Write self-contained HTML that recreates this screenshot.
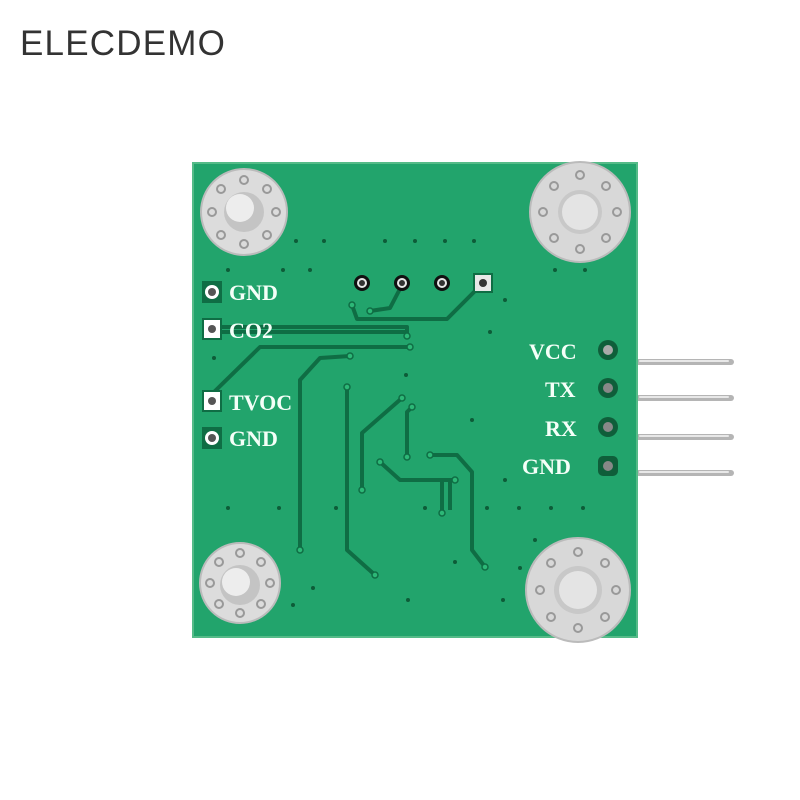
<!DOCTYPE html>
<html><head><meta charset="utf-8"><style>
body{margin:0;background:#fff;width:800px;height:800px;overflow:hidden}
svg{display:block}
</style></head><body>
<svg width="800" height="800" viewBox="0 0 800 800" xmlns="http://www.w3.org/2000/svg">
<rect width="800" height="800" fill="#fff"/>
<text x="20" y="55" font-family="Liberation Sans, sans-serif" font-size="35" letter-spacing="1.2" fill="#333">ELECDEMO</text>
<!-- pins -->
<g stroke-linecap="round">
<g stroke="#b5b5b5" stroke-width="6">
<line x1="632" y1="362" x2="731" y2="362"/><line x1="632" y1="398" x2="731" y2="398"/>
<line x1="632" y1="437" x2="731" y2="437"/><line x1="632" y1="473" x2="731" y2="473"/></g>
<g stroke="#e8e8e8" stroke-width="2">
<line x1="640" y1="361" x2="728" y2="361"/><line x1="640" y1="397" x2="728" y2="397"/>
<line x1="640" y1="436" x2="728" y2="436"/><line x1="640" y1="472" x2="728" y2="472"/></g>
</g>
<!-- board -->
<rect x="193" y="163" width="444" height="474" fill="#22a46c"/>
<rect x="193" y="163" width="444" height="474" fill="none" stroke="#55bb88" stroke-width="2"/>
<!-- traces -->
<g fill="none" stroke="#0f6d44" stroke-width="4" stroke-linejoin="round">
<polyline points="483,283 447,319 357,319 352,305"/>
<polyline points="403,283 390,308 370,311"/>
<polyline points="218,327 407,327 407,336"/>
<polyline points="218,332 405,332"/>
<polyline points="213,393 260,347 410,347"/>
<polyline points="350,356 320,358 300,380 300,550"/>
<polyline points="347,387 347,550 375,575"/>
<polyline points="402,398 362,433 362,490"/>
<polyline points="412,407 407,412 407,457"/>
<polyline points="380,462 400,480 455,480"/>
<polyline points="442,480 442,513"/>
<polyline points="450,480 450,510"/>
<polyline points="430,455 457,455 472,472 472,550 485,567"/>
</g>
<g fill="#2db877" stroke="#0f6d44" stroke-width="1.5">
<circle cx="352" cy="305" r="3"/><circle cx="370" cy="311" r="3"/><circle cx="407" cy="336" r="3"/>
<circle cx="410" cy="347" r="3"/><circle cx="350" cy="356" r="3"/><circle cx="300" cy="550" r="3"/>
<circle cx="347" cy="387" r="3"/><circle cx="375" cy="575" r="3"/><circle cx="402" cy="398" r="3"/>
<circle cx="412" cy="407" r="3"/><circle cx="362" cy="490" r="3"/><circle cx="407" cy="457" r="3"/>
<circle cx="380" cy="462" r="3"/><circle cx="455" cy="480" r="3"/><circle cx="442" cy="513" r="3"/>
<circle cx="430" cy="455" r="3"/><circle cx="485" cy="567" r="3"/>
</g>
<!-- small vias -->
<g fill="#0d5c38">
<circle cx="296" cy="241" r="2"/><circle cx="324" cy="241" r="2"/><circle cx="385" cy="241" r="2"/>
<circle cx="415" cy="241" r="2"/><circle cx="445" cy="241" r="2"/><circle cx="474" cy="241" r="2"/>
<circle cx="228" cy="270" r="2"/><circle cx="283" cy="270" r="2"/><circle cx="310" cy="270" r="2"/>
<circle cx="555" cy="270" r="2"/><circle cx="585" cy="270" r="2"/><circle cx="505" cy="300" r="2"/>
<circle cx="490" cy="332" r="2"/><circle cx="214" cy="358" r="2"/><circle cx="406" cy="375" r="2"/>
<circle cx="472" cy="420" r="2"/><circle cx="505" cy="480" r="2"/><circle cx="228" cy="508" r="2"/>
<circle cx="279" cy="508" r="2"/><circle cx="336" cy="508" r="2"/><circle cx="425" cy="508" r="2"/>
<circle cx="487" cy="508" r="2"/><circle cx="519" cy="508" r="2"/><circle cx="551" cy="508" r="2"/>
<circle cx="583" cy="508" r="2"/><circle cx="313" cy="588" r="2"/><circle cx="455" cy="562" r="2"/>
<circle cx="520" cy="568" r="2"/><circle cx="293" cy="605" r="2"/><circle cx="408" cy="600" r="2"/>
<circle cx="503" cy="600" r="2"/><circle cx="535" cy="540" r="2"/>
</g>
<!-- header pads -->
<g>
<circle cx="362" cy="283" r="8" fill="#111"/><circle cx="362" cy="283" r="5" fill="#e8e8e8"/><circle cx="362" cy="283" r="3" fill="#333"/>
<circle cx="402" cy="283" r="8" fill="#111"/><circle cx="402" cy="283" r="5" fill="#e8e8e8"/><circle cx="402" cy="283" r="3" fill="#333"/>
<circle cx="442" cy="283" r="8" fill="#111"/><circle cx="442" cy="283" r="5" fill="#e8e8e8"/><circle cx="442" cy="283" r="3" fill="#333"/>
<rect x="473" y="273" width="20" height="20" fill="#0f6d44"/><rect x="475" y="275" width="16" height="16" fill="#e8e8e8"/><circle cx="483" cy="283" r="4" fill="#333"/>
</g>
<!-- left pads -->
<g>
<rect x="202" y="281" width="20" height="22" fill="#0f6d44"/><circle cx="212" cy="292" r="7" fill="#fff"/><circle cx="212" cy="292" r="4" fill="#555"/>
<rect x="202" y="318" width="20" height="22" fill="#0f6d44"/><rect x="204" y="320" width="16" height="18" fill="#fff"/><circle cx="212" cy="329" r="4" fill="#555"/>
<rect x="202" y="390" width="20" height="22" fill="#0f6d44"/><rect x="204" y="392" width="16" height="18" fill="#fff"/><circle cx="212" cy="401" r="4" fill="#555"/>
<rect x="202" y="427" width="20" height="22" fill="#0f6d44"/><circle cx="212" cy="438" r="7" fill="#fff"/><circle cx="212" cy="438" r="4" fill="#555"/>
</g>
<g font-family="Liberation Serif, serif" font-size="22" font-weight="bold" fill="#f4fff8">
<text x="229" y="300">GND</text><text x="229" y="338">CO2</text>
<text x="229" y="410">TVOC</text><text x="229" y="446">GND</text>
<text x="529" y="359">VCC</text><text x="545" y="397">TX</text>
<text x="545" y="436">RX</text><text x="522" y="474">GND</text>
</g>
<!-- right pads -->
<g>
<circle cx="608" cy="350" r="10" fill="#0f5e3a"/><circle cx="608" cy="350" r="5" fill="#aaa"/>
<circle cx="608" cy="388" r="10" fill="#0f5e3a"/><circle cx="608" cy="388" r="5" fill="#888"/>
<circle cx="608" cy="427" r="10" fill="#0f5e3a"/><circle cx="608" cy="427" r="5" fill="#888"/>
<rect x="598" y="456" width="20" height="20" rx="5" fill="#0f5e3a"/><circle cx="608" cy="466" r="5" fill="#888"/>
</g>
<!-- mounting holes -->
<g>
<circle cx="244" cy="212" r="43" fill="#dcdcdc" stroke="#bbb" stroke-width="2"/>
<circle cx="244" cy="212" r="20" fill="#c4c4c4"/><circle cx="240" cy="208" r="14" fill="#ededed"/>
<circle cx="580" cy="212" r="50" fill="#d8d8d8" stroke="#bbb" stroke-width="2"/>
<circle cx="580" cy="212" r="22" fill="#c8c8c8"/><circle cx="580" cy="212" r="18" fill="#e4e4e4"/>
<circle cx="240" cy="583" r="40" fill="#dcdcdc" stroke="#bbb" stroke-width="2"/>
<circle cx="240" cy="585" r="20" fill="#c4c4c4"/><circle cx="236" cy="582" r="14" fill="#ededed"/>
<circle cx="578" cy="590" r="52" fill="#d8d8d8" stroke="#bbb" stroke-width="2"/>
<circle cx="578" cy="590" r="24" fill="#c8c8c8"/><circle cx="578" cy="590" r="19" fill="#e4e4e4"/>
</g>
<g fill="none" stroke="#999" stroke-width="2">
<circle cx="244" cy="180" r="4"/><circle cx="244" cy="244" r="4"/><circle cx="212" cy="212" r="4"/><circle cx="276" cy="212" r="4"/>
<circle cx="221" cy="189" r="4"/><circle cx="267" cy="189" r="4"/><circle cx="221" cy="235" r="4"/><circle cx="267" cy="235" r="4"/>
<circle cx="580" cy="175" r="4"/><circle cx="580" cy="249" r="4"/><circle cx="543" cy="212" r="4"/><circle cx="617" cy="212" r="4"/>
<circle cx="554" cy="186" r="4"/><circle cx="606" cy="186" r="4"/><circle cx="554" cy="238" r="4"/><circle cx="606" cy="238" r="4"/>
<circle cx="240" cy="553" r="4"/><circle cx="240" cy="613" r="4"/><circle cx="210" cy="583" r="4"/><circle cx="270" cy="583" r="4"/>
<circle cx="219" cy="562" r="4"/><circle cx="261" cy="562" r="4"/><circle cx="219" cy="604" r="4"/><circle cx="261" cy="604" r="4"/>
<circle cx="578" cy="552" r="4"/><circle cx="578" cy="628" r="4"/><circle cx="540" cy="590" r="4"/><circle cx="616" cy="590" r="4"/>
<circle cx="551" cy="563" r="4"/><circle cx="605" cy="563" r="4"/><circle cx="551" cy="617" r="4"/><circle cx="605" cy="617" r="4"/>
</g>
</svg>
</body></html>
